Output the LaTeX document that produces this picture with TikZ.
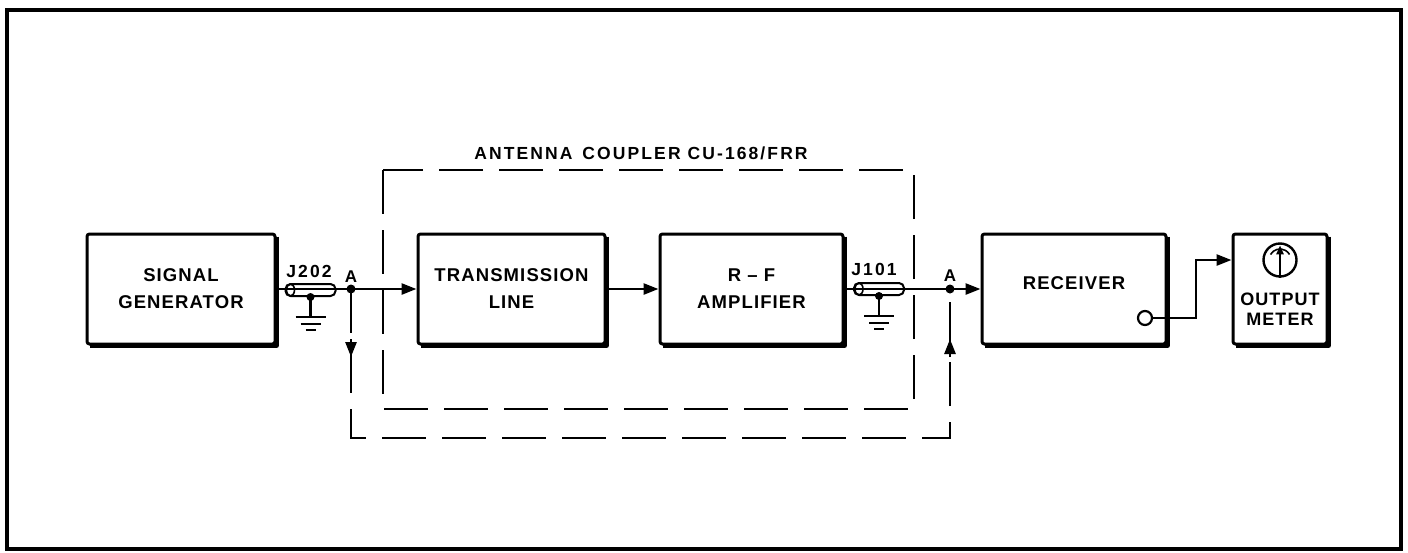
\documentclass[tikz,border=0pt]{standalone}
\usepackage{fontspec}
\setmainfont{Liberation Sans}[LetterSpace=6]
\usetikzlibrary{arrows.meta,calc}
\begin{document}
\begin{tikzpicture}[x=1pt,y=-1pt,
  blk/.style={draw, line width=3pt, rounded corners=2.5pt, minimum height=110pt,
    inner sep=0pt, align=center, font=\fontsize{18.5}{27}\selectfont\bfseries},
  wire/.style={line width=2.6pt},
  tip/.style={-{Triangle[length=15pt,width=11pt]}},
  dsh/.style={line width=2.6pt, dash pattern=on 44pt off 16pt},
  dot/.style={circle, fill, inner sep=0pt, minimum size=9pt},
  lbl/.style={font=\fontsize{17}{19}\selectfont\bfseries, inner sep=0pt},
  coax/.style={draw, line width=2pt, rounded corners=5pt, minimum width=50pt,
    minimum height=12pt, inner sep=0pt}]
\useasboundingbox (0,0) rectangle (1408,552);
% frame
\draw[line width=3.6pt] (7,10) rectangle (1401,549);
% blocks
\node[blk, minimum width=188pt] (sg) at (181,289) {SIGNAL\\GENERATOR};
\node[blk, minimum width=187pt] (tl) at (511.5,289) {TRANSMISSION\\LINE};
\node[blk, minimum width=183pt] (rf) at (751.5,289) {R – F\\AMPLIFIER};
\node[blk, minimum width=184pt] (rx) at (1074,289) {};
\node[inner sep=0pt, font=\fontsize{18.5}{27}\selectfont\bfseries] (rxt) at (1074,283) {RECEIVER};
\node[blk, minimum width=94pt] (om) at (1280,289) {};
\node[align=center, inner sep=0pt, font=\fontsize{18}{19.5}\selectfont\bfseries] (omt) at (1280,309) {OUTPUT\\METER};
\foreach \n in {sg,tl,rf,rx,om}
  \draw[line width=5pt, line join=round]
    ([yshift=-4pt]\n.north east) -- (\n.south east) -- ([xshift=4pt]\n.south west);
% coupler dashed box
\draw[dsh] (383,170) rectangle (914,409);
\node[lbl, font=\fontsize{17.5}{19}\selectfont\bfseries\addfontfeature{LetterSpace=12}] (ttl) at (641,153)
  {ANTENNA\hspace{10pt}COUPLER CU-168/FRR};
% points A
\node[dot] (a1) at (351,289) {};
\node[dot] (a2) at (950,289) {};
\node[lbl] (la1) at (351,277) {A};
\node[lbl] (la2) at (950,276) {A};
% main signal path
\draw[wire, tip] (sg.east) -- (tl.west);
\draw[wire, tip] (tl.east) -- (rf.west);
\draw[wire, tip] (rf.east) -- (rx.west);
% coax J202
\node[coax] (cx1) at (310.5,290) {};
\draw[line width=1.6pt] ([xshift=6pt]cx1.west) ellipse (4pt and 6pt);
\node[lbl, font=\fontsize{17.5}{19}\selectfont\bfseries\addfontfeature{LetterSpace=12}] (j1) at (309,271) {J202};
\node[dot, minimum size=8pt] (gd1) at (cx1.south) {};
\draw[wire] (gd1.center) -- ++(0,20) coordinate (g1);
\draw[wire] ($(g1)+(-15,0)$) -- ($(g1)+(15,0)$);
\draw[wire] ($(g1)+(-10,7)$) -- ($(g1)+(10,7)$);
\draw[wire] ($(g1)+(-5,13)$) -- ($(g1)+(5,13)$);
% coax J101
\node[coax] (cx2) at (879,289) {};
\draw[line width=1.6pt] ([xshift=6pt]cx2.west) ellipse (4pt and 6pt);
\node[lbl, font=\fontsize{17.5}{19}\selectfont\bfseries\addfontfeature{LetterSpace=12}] (j2) at (874,269) {J101};
\node[dot, minimum size=8pt] (gd2) at (cx2.south) {};
\draw[wire] (gd2.center) -- ++(0,20) coordinate (g2);
\draw[wire] ($(g2)+(-15,0)$) -- ($(g2)+(15,0)$);
\draw[wire] ($(g2)+(-10,7)$) -- ($(g2)+(10,7)$);
\draw[wire] ($(g2)+(-5,13)$) -- ($(g2)+(5,13)$);
% dashed test loop
\coordinate (b1) at (351,438);
\coordinate (b2) at (950,438);
\draw[dsh] (a1.center) -- (b1) -- (b2) -- (a2.center);
\draw[wire, tip] ($(a1)+(0,50)$) -- ($(a1)+(0,68)$);
\draw[wire, tip] ($(a2)+(0,68)$) -- ($(a2)+(0,50)$);
% receiver output to meter
\node[draw, circle, line width=2.2pt, minimum size=14pt, inner sep=0pt, fill=white] (ro) at (1145,318) {};
\coordinate (bend) at (1196,260);
\draw[wire, tip] (ro.east) -| (bend) -- (bend -| om.west);
% meter icon
\node[draw, circle, line width=2.4pt, minimum size=33pt, inner sep=0pt] (mc) at (1280,260) {};
\draw[line width=2.6pt, -{Triangle[length=9pt,width=7pt]}] (mc.south) -- ([yshift=-3pt]mc.north);
\draw[line width=1.6pt] ([shift={(150:11pt)}]mc.center) arc[start angle=150, end angle=30, radius=11pt];
\end{tikzpicture}
\end{document}
